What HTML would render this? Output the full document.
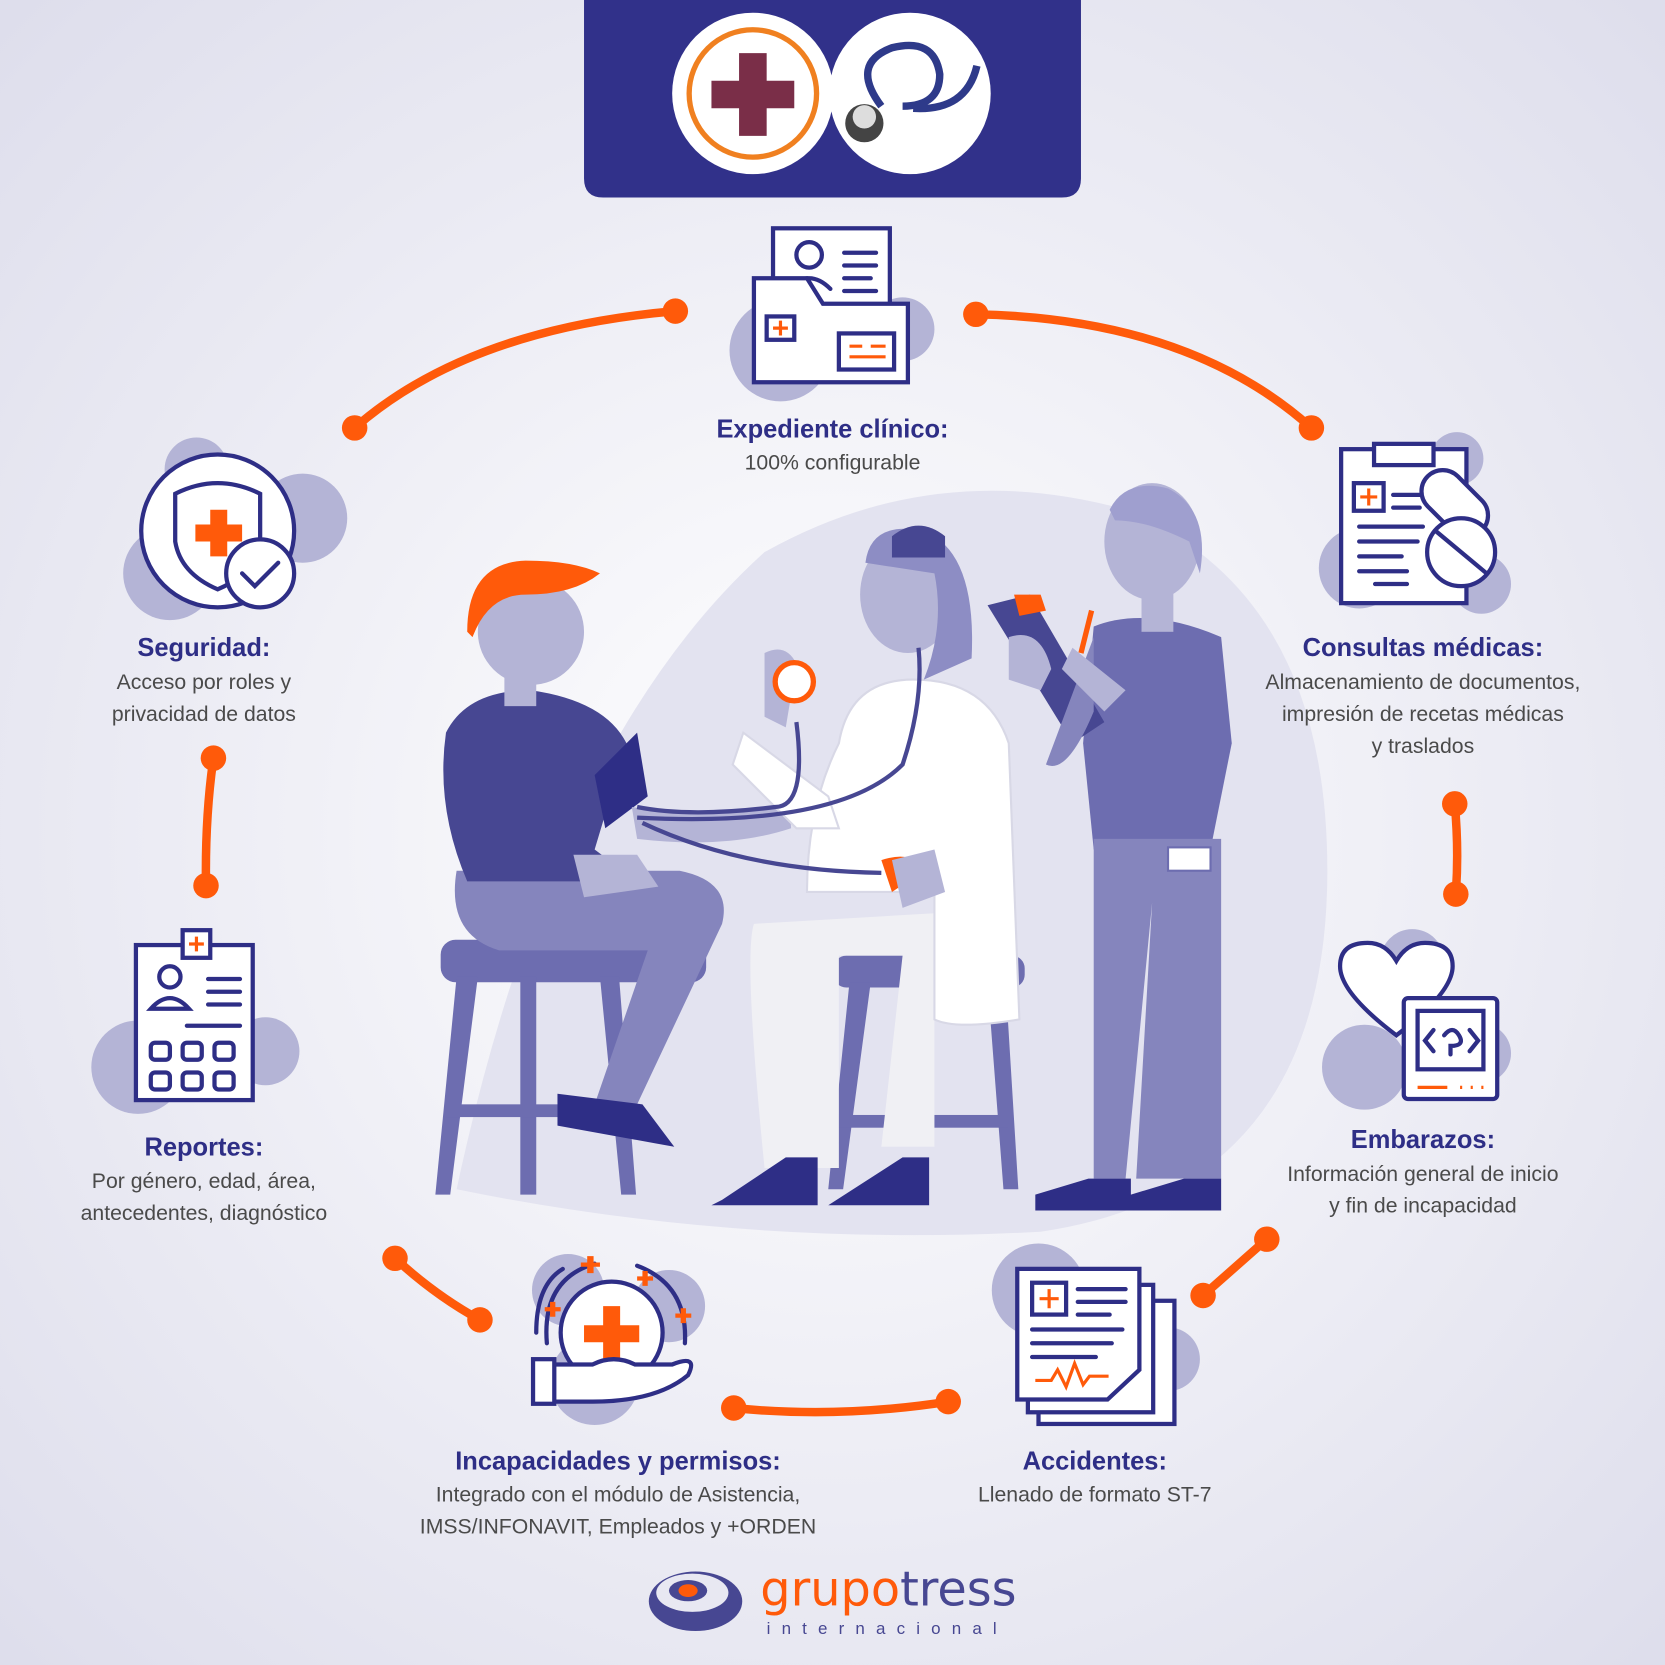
<!DOCTYPE html>
<html><head><meta charset="utf-8"><style>
html,body{margin:0;padding:0;width:1665px;height:1665px;overflow:hidden;}
svg{display:block}
text{font-family:"Liberation Sans","DejaVu Sans",sans-serif}
.t{fill:#2e2e86;font-weight:bold;font-size:24px;text-anchor:middle}
.b{fill:#4a4a4a;font-size:20px;text-anchor:middle}
.c{fill:none;stroke:#ff5a0a;stroke-width:8;stroke-linecap:round}
.d{fill:#ff5a0a}
.ic{fill:#fff;stroke:#2e2e86;stroke-width:4}
.ln{fill:none;stroke:#2e2e86;stroke-width:4;stroke-linecap:round}
.bl{fill:#b4b4d6}
</style></head><body>
<svg width="1665" height="1665" viewBox="0 0 1568 1568" xmlns="http://www.w3.org/2000/svg">
<defs>
<radialGradient id="bg" cx="50%" cy="50%" r="70%">
<stop offset="0" stop-color="#ffffff"/><stop offset="1" stop-color="#dedeec"/>
</radialGradient>
</defs>
<rect width="1568" height="1568" fill="url(#bg)"/>
<!-- header -->
<path d="M550 0H1018V168Q1018 186 1000 186H568Q550 186 550 168Z" fill="#31318a"/>
<circle cx="709" cy="88" r="76" fill="#fff"/>
<circle cx="709" cy="88" r="60" fill="none" stroke="#f08020" stroke-width="5"/>
<path d="M696 50h26v26h26v26h-26v26h-26v-26h-26v-26h26z" fill="#7a2e48"/>
<circle cx="857" cy="88" r="76" fill="#fff"/>
<path d="M830 100Q800 60 840 45Q880 35 885 70Q885 100 850 100" fill="none" stroke="#2e3a8a" stroke-width="7"/>
<path d="M860 102Q910 105 920 62" fill="none" stroke="#2e3a8a" stroke-width="7"/>
<circle cx="814" cy="116" r="18" fill="#444"/><circle cx="814" cy="110" r="11" fill="#ddd"/>

<!-- central blob -->
<path d="M430 1120Q520 700 720 520Q880 430 1060 480Q1250 560 1250 820Q1250 1120 980 1160Q700 1175 430 1120Z" fill="#e3e3f0"/>

<!-- connectors -->
<path class="c" d="M334 403Q440 310 636 293"/><circle class="d" cx="334" cy="403" r="12"/><circle class="d" cx="636" cy="293" r="12"/>
<path class="c" d="M919 296Q1120 300 1235 403"/><circle class="d" cx="919" cy="296" r="12"/><circle class="d" cx="1235" cy="403" r="12"/>
<path class="c" d="M201 714Q193 770 194 834"/><circle class="d" cx="201" cy="714" r="12"/><circle class="d" cx="194" cy="834" r="12"/>
<path class="c" d="M1370 757Q1374 800 1371 842"/><circle class="d" cx="1370" cy="757" r="12"/><circle class="d" cx="1371" cy="842" r="12"/>
<path class="c" d="M372 1185Q410 1220 452 1243"/><circle class="d" cx="372" cy="1185" r="12"/><circle class="d" cx="452" cy="1243" r="12"/>
<path class="c" d="M691 1326Q790 1336 893 1320"/><circle class="d" cx="691" cy="1326" r="12"/><circle class="d" cx="893" cy="1320" r="12"/>
<path class="c" d="M1133 1220L1193 1167"/><circle class="d" cx="1133" cy="1220" r="12"/><circle class="d" cx="1193" cy="1167" r="12"/>

<!-- icon: expediente -->
<circle class="bl" cx="735" cy="330" r="48"/><circle class="bl" cx="850" cy="310" r="30"/>
<rect class="ic" x="728" y="215" width="110" height="110"/>
<circle class="ln" cx="762" cy="240" r="12"/><path class="ln" d="M742 272Q762 252 782 272"/>
<path class="ln" d="M795 238h30M795 250h30M795 262h25M795 274h30"/>
<path class="ic" d="M710 262h50l15 24h80v74H710z"/>
<rect class="ic" x="722" y="298" width="26" height="22"/>
<path d="M735 302v14M728 309h14" stroke="#ff5a0a" stroke-width="3"/>
<rect class="ic" x="790" y="314" width="52" height="34"/>
<path d="M800 326h12M820 326h14M800 336h34" stroke="#ff5a0a" stroke-width="3"/>
<text class="t" x="784" y="412">Expediente clínico:</text>
<text class="b" x="784" y="442">100% configurable</text>

<!-- seguridad -->
<circle class="bl" cx="185" cy="442" r="30"/><circle class="bl" cx="285" cy="488" r="42"/><circle class="bl" cx="160" cy="540" r="44"/>
<circle class="ic" cx="205" cy="500" r="72"/>
<path class="ln" d="M165 465Q205 445 245 465V510Q240 540 205 555Q170 540 165 510Z"/>
<path d="M198 480h16v14h14v16h-14v14h-16v-14h-14v-16h14z" fill="#ff5a0a"/>
<circle class="ic" cx="245" cy="540" r="32"/><path class="ln" d="M228 540l12 12 22-22"/>
<text class="t" x="192" y="618">Seguridad:</text>
<text class="b" x="192" y="649">Acceso por roles y</text>
<text class="b" x="192" y="679">privacidad de datos</text>

<!-- consultas -->
<circle class="bl" cx="1372" cy="432" r="25"/><circle class="bl" cx="1280" cy="535" r="38"/><circle class="bl" cx="1395" cy="550" r="28"/>
<rect class="ic" x="1263" y="423" width="118" height="145"/>
<rect class="ic" x="1294" y="418" width="56" height="20"/>
<rect class="ic" x="1275" y="455" width="28" height="26"/><path d="M1289 460v16M1281 468h16" stroke="#ff5a0a" stroke-width="3"/>
<path class="ln" d="M1312 466h30M1312 478h25M1280 496h60M1280 510h55M1280 524h40M1280 538h45M1295 550h30"/>
<rect class="ic" x="1350" y="438" width="40" height="72" rx="20" transform="rotate(-45 1370 474)"/>
<circle class="ic" cx="1376" cy="520" r="32"/><path class="ln" d="M1352 500l48 40"/>
<text class="t" x="1340" y="618">Consultas médicas:</text>
<text class="b" x="1340" y="649">Almacenamiento de documentos,</text>
<text class="b" x="1340" y="679">impresión de recetas médicas</text>
<text class="b" x="1340" y="709">y traslados</text>

<!-- reportes -->
<circle class="bl" cx="130" cy="1005" r="44"/><circle class="bl" cx="250" cy="990" r="32"/>
<rect class="ic" x="128" y="890" width="110" height="146"/>
<rect class="ic" x="172" y="876" width="26" height="26"/><path d="M185 882v14M178 889h14" stroke="#ff5a0a" stroke-width="3"/>
<circle class="ln" cx="160" cy="920" r="10"/><path class="ln" d="M142 950Q160 930 178 950Z"/>
<path class="ln" d="M196 922h30M196 934h30M196 946h30M176 966h50"/>
<g class="ln"><rect x="142" y="982" width="18" height="16" rx="4"/><rect x="172" y="982" width="18" height="16" rx="4"/><rect x="202" y="982" width="18" height="16" rx="4"/><rect x="142" y="1010" width="18" height="16" rx="4"/><rect x="172" y="1010" width="18" height="16" rx="4"/><rect x="202" y="1010" width="18" height="16" rx="4"/></g>
<text class="t" x="192" y="1088">Reportes:</text>
<text class="b" x="192" y="1119">Por género, edad, área,</text>
<text class="b" x="192" y="1149">antecedentes, diagnóstico</text>

<!-- embarazos -->
<circle class="bl" cx="1330" cy="905" r="30"/><circle class="bl" cx="1285" cy="1005" r="40"/><circle class="bl" cx="1395" cy="992" r="28"/>
<path class="ic" d="M1315 975Q1262 935 1262 910Q1262 888 1288 888Q1305 888 1315 905Q1325 888 1342 888Q1368 888 1368 910Q1368 935 1315 975Z"/>
<rect class="ic" x="1322" y="940" width="88" height="95" rx="4"/>
<rect class="ic" x="1335" y="952" width="62" height="55"/>
<path class="ln" d="M1350 970l-8 10 8 10M1384 970l8 10-8 10M1360 975q8-10 14 0t-8 10v8" stroke-width="3"/>
<path d="M1335 1024h28" stroke="#ff5a0a" stroke-width="3"/><path d="M1375 1024h2M1385 1024h2M1395 1024h2" stroke="#ff5a0a" stroke-width="3"/>
<text class="t" x="1340" y="1081">Embarazos:</text>
<text class="b" x="1340" y="1112">Información general de inicio</text>
<text class="b" x="1340" y="1142">y fin de incapacidad</text>

<!-- incapacidades -->
<circle class="bl" cx="535" cy="1215" r="34"/><circle class="bl" cx="630" cy="1230" r="34"/><circle class="bl" cx="560" cy="1300" r="42"/>
<circle class="ic" cx="576" cy="1255" r="48"/>
<path d="M568 1230h16v18h18v16h-18v18h-16v-18h-18v-16h18z" fill="#ff5a0a"/>
<path class="ln" d="M515 1265Q510 1205 560 1190M600 1192Q648 1210 645 1265M505 1255Q505 1210 530 1195"/>
<path class="ic" d="M518 1285h40q20-10 40 0h35q25-10 15 10q-30 25-90 25h-40z"/>
<rect class="ic" x="502" y="1280" width="20" height="42"/>
<g fill="#ff5a0a"><path d="M553 1183h6v6h6v4h-6v6h-6v-6h-6v-4h6z"/><path d="M605 1197h5v5h5v4h-5v5h-5v-5h-5v-4h5z"/><path d="M518 1226h5v5h5v4h-5v5h-5v-5h-5v-4h5z"/><path d="M641 1232h5v5h5v4h-5v5h-5v-5h-5v-4h5z"/></g>
<text class="t" x="582" y="1384">Incapacidades y permisos:</text>
<text class="b" x="582" y="1414">Integrado con el módulo de Asistencia,</text>
<text class="b" x="582" y="1444">IMSS/INFONAVIT, Empleados y +ORDEN</text>

<!-- accidentes -->
<circle class="bl" cx="978" cy="1215" r="44"/><circle class="bl" cx="1100" cy="1280" r="30"/>
<rect class="ic" x="978" y="1225" width="128" height="116"/>
<rect class="ic" x="968" y="1210" width="118" height="120"/>
<path class="ic" d="M958 1195h115v95l-30 28h-85z"/>
<rect class="ic" x="972" y="1208" width="32" height="30" stroke="#ff5a0a"/><path d="M988 1214v18M979 1223h18" stroke="#ff5a0a" stroke-width="3"/>
<path class="ln" d="M1015 1214h45M1015 1226h45M1015 1238h30M972 1252h85M972 1265h75M972 1278h60" stroke-width="3"/>
<path d="M975 1300h15l6-10 8 16 8-22 8 20 6-8h18" fill="none" stroke="#ff5a0a" stroke-width="3"/>
<text class="t" x="1031" y="1384">Accidentes:</text>
<text class="b" x="1031" y="1414">Llenado de formato ST-7</text>

<!-- central scene -->
<g fill="#6d6db0">
<rect x="415" y="885" width="250" height="40" rx="14"/>
<path d="M430 920l-20 205h14l26-205zM490 920v205h15V920zM565 920l20 205h14l-16-205z"/>
<rect x="420" y="1040" width="170" height="12"/>
<rect x="785" y="900" width="180" height="30" rx="12"/>
<path d="M800 925l-20 195h14l26-195zM930 925l15 195h14l-12-195z"/><rect x="790" y="1050" width="160" height="12"/>
</g>
<path d="M430 820Q420 880 470 895H610L560 1040H600L680 870Q690 830 640 820Z" fill="#8585bd"/>
<path d="M525 1030l80 10 30 40-110-20z" fill="#2e2e86"/>
<path d="M420 690Q440 650 500 650Q570 660 590 700L560 800L600 830H440Q410 760 420 690Z" fill="#474792"/>
<path d="M560 730l40-40 10 60-40 30z" fill="#2e2e86"/>
<path d="M595 760q60 10 130 0 20 0 20 20q-60 20-145 10z" fill="#b4b4d6"/>
<path d="M540 805l60 0 20 30-70 10z" fill="#b4b4d6"/>
<rect x="475" y="620" width="30" height="45" fill="#b4b4d6"/>
<ellipse cx="500" cy="595" rx="50" ry="50" fill="#b4b4d6"/>
<path d="M440 595Q440 530 495 528Q540 528 565 540Q540 560 495 560Q460 560 445 600Z" fill="#ff5a0a"/>
<path d="M710 870Q700 900 720 1100H790V900H850L830 1080H880V860Z" fill="#f0f0f4"/>
<path d="M680 1130l60-40 30 0 0 45H670zM780 1135l70-45 25 0 0 45H775z" fill="#2e2e86"/>
<path d="M790 700Q800 640 860 640Q930 640 950 700L960 960Q900 970 880 960L880 840H760Q760 760 790 700Z" fill="#fff" stroke="#d8d8e6" stroke-width="2"/>
<path d="M700 690l80 60 10 30-40 0-60-60z" fill="#fff" stroke="#d8d8e6" stroke-width="2"/>
<path d="M720 615q20-10 30 10l-10 60-20-10z" fill="#b4b4d6"/>
<ellipse cx="855" cy="560" rx="45" ry="55" fill="#b4b4d6"/>
<path d="M815 530Q820 490 870 500Q920 520 915 620L870 640Q890 590 880 540Z" fill="#8d8dc4"/>
<path d="M840 505q25-20 50 0v20h-50z" fill="#474792"/>
<path d="M750 680Q760 760 730 760 650 770 600 760M865 610Q870 660 850 720Q790 780 600 770M605 775Q700 820 830 822" fill="none" stroke="#474792" stroke-width="4"/>
<circle cx="748" cy="642" r="18" fill="#fff" stroke="#ff5a0a" stroke-width="5"/>
<path d="M830 810q30-10 40 10l-30 20z" fill="#ff5a0a"/>
<path d="M840 810l40-10 10 40-40 15z" fill="#b4b4d6"/>
<path d="M1030 590Q1080 570 1150 600L1160 700L1140 800H1030L1020 700Z" fill="#6d6db0"/>
<path d="M1030 790H1150L1150 1110H1070L1085 850L1060 1110H1030Z" fill="#8585bd"/>
<path d="M975 1125l50-15 40 0 0 30H975zM1065 1125l50-15 35 0 0 30h-85z" fill="#2e2e86"/>
<path d="M930 570l40-10 70 120-30 20z" fill="#474792"/>
<path d="M955 560l25 0 5 15-25 5z" fill="#ff5a0a"/>
<path d="M1030 600Q1000 680 985 720 1005 730 1030 670Z" fill="#8585bd"/>
<path d="M950 600q30-10 40 30l-10 20-30-10z" fill="#b4b4d6"/>
<path d="M1010 610l50 40-20 20-40-40z" fill="#b4b4d6"/>
<path d="M1028 575l-10 40" stroke="#ff5a0a" stroke-width="5"/>
<rect x="1075" y="550" width="30" height="45" fill="#b4b4d6"/>
<ellipse cx="1085" cy="510" rx="45" ry="55" fill="#b4b4d6"/>
<path d="M1045 480Q1060 450 1100 460Q1140 480 1130 540L1120 510Q1080 490 1050 490Z" fill="#9f9fcf"/>
<rect x="1100" y="798" width="40" height="22" fill="#fff" stroke="#6d6db0" stroke-width="2"/>

<!-- logo -->
<ellipse cx="655" cy="1508" rx="44" ry="28" fill="#474792"/>
<ellipse cx="652" cy="1500" rx="34" ry="18" fill="#e8e8f2"/>
<ellipse cx="648" cy="1498" rx="18" ry="10" fill="#474792"/>
<ellipse cx="648" cy="1498" rx="9" ry="6" fill="#ff5a0a"/>
<text x="716" y="1512" font-size="45" fill="#ff5a0a" style="font-family:'DejaVu Sans',sans-serif">grupo<tspan fill="#474792">tress</tspan></text>
<text x="722" y="1539" font-size="16" fill="#474792" letter-spacing="10.5">internacional</text>
</svg>
</body></html>
